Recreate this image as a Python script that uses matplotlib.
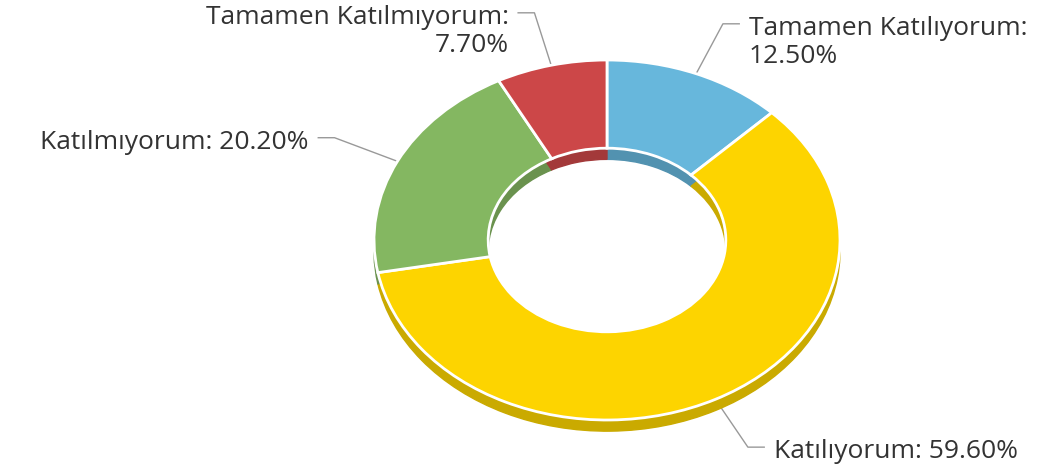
import numpy as np
import matplotlib.pyplot as plt
from matplotlib.colors import to_rgb

# Veriler
categories = ["Tamamen Katılıyorum", "Katılıyorum", "Katılmıyorum", "Tamamen Katılmıyorum"]
values = [12.5, 59.6, 20.2, 7.7]
colors = ["#67b7dc", "#fdd400", "#84b761", "#cc4748"]

plt.rcParams['font.family'] = ['Open Sans', 'DejaVu Sans']

fig = plt.figure(figsize=(10.62, 4.76), dpi=100)
ax = fig.add_axes([0, 0, 1, 1])

# Sahte 3B: koyu renkli alt katman biraz aşağıda
depth = 0.062
side = [tuple(c * 0.8 for c in to_rgb(col)) for col in colors]
shadow, _ = ax.pie(values, colors=side, startangle=90, counterclock=False,
                   center=(0, -depth), wedgeprops=dict(width=0.49))
for w in shadow:
    w.set_edgecolor(w.get_facecolor())
    w.set_linewidth(1)
    w.set_zorder(2)

top, _ = ax.pie(values, colors=colors, startangle=90, counterclock=False,
                wedgeprops=dict(width=0.49, edgecolor='white', linewidth=2))
for w in top:
    w.set_zorder(3)

# Etiketler ve çizgiler
frac = np.array(values) / sum(values)
mid = np.cumsum(frac) - frac / 2
theta = np.deg2rad(90 - 360 * mid)
for name, v, t in zip(categories, values, theta):
    x0, y0 = np.cos(t), np.sin(t)
    x1, y1 = 1.3 * x0, 1.3 * y0
    s = 1 if x0 > 0 else -1
    x2 = x1 + s * 0.07
    ax.plot([x0, x1, x2], [y0, y1, y1], color='#999999', lw=1, zorder=1)
    sep = "\n" if len(name) > 15 else " "
    ax.text(x2 + s * 0.04, y1 + 0.045, f"{name}:{sep}{v:.2f}%",
            ha='left' if s > 0 else 'right', va='top', fontsize=19,
            color='#333333', linespacing=1.15)

ax.set_aspect('auto')
ax.set_xlim(-607 / 233, 455 / 233)
ax.set_ylim(-236 / 180, 240 / 180)
ax.axis('off')

fig.savefig('out.png', dpi=100)
